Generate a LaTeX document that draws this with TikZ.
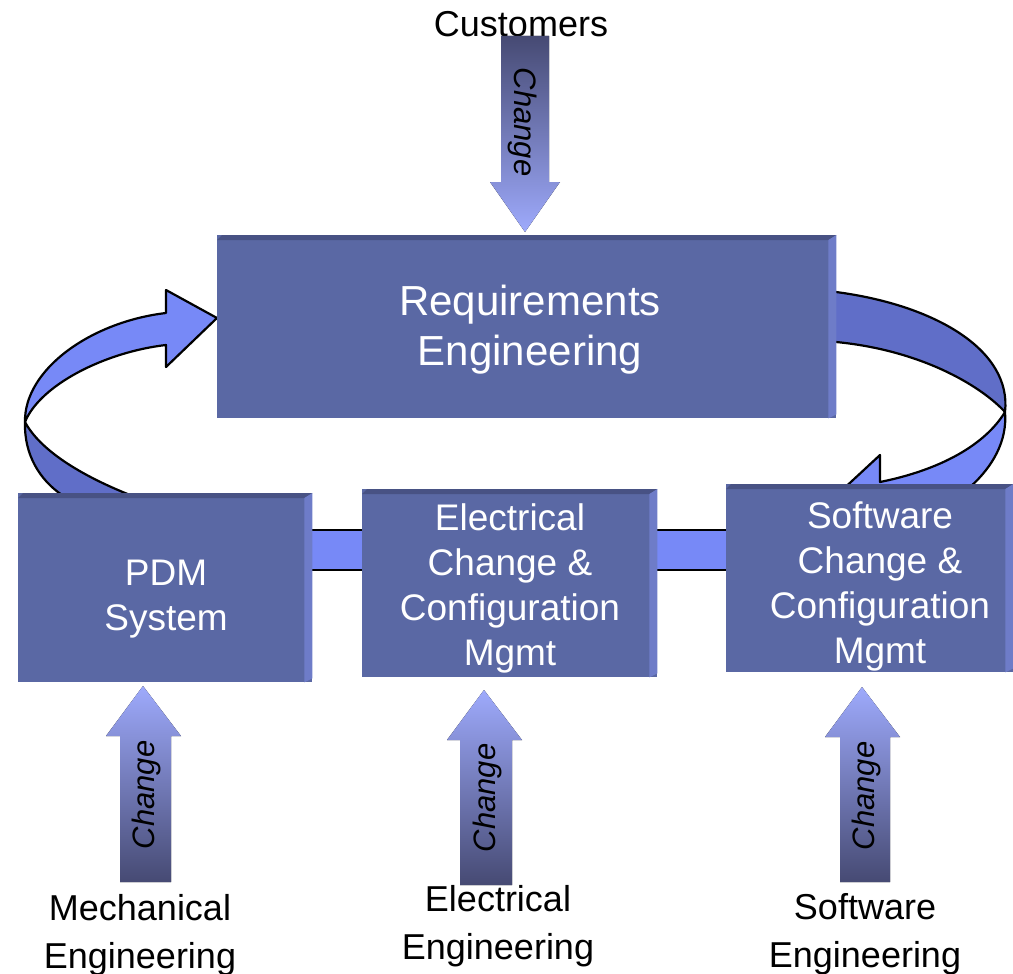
\documentclass[tikz,border=0pt]{standalone}
\usepackage{fontspec}
\setmainfont{Liberation Sans}
\usetikzlibrary{calc}

\definecolor{boxfill}{RGB}{90,104,164}
\definecolor{boxtop}{RGB}{72,82,132}
\definecolor{boxside}{RGB}{110,124,200}
\definecolor{ribbonlight}{RGB}{119,137,247}
\definecolor{ribbondark}{RGB}{96,110,200}
\definecolor{flowdark}{RGB}{70,74,115}
\definecolor{flowlight}{RGB}{158,170,252}

\tikzset{
  blk/.style={fill=boxfill, inner sep=0pt, anchor=north west},
  blktext/.style={text=white, align=center, inner sep=0pt,
    font=\fontsize{37}{45}\selectfont},
  ribbon/.style={draw=black, line width=2.2pt, line join=round},
  inflow/.style={top color=flowlight, bottom color=flowdark},
  outflow/.style={top color=flowdark, bottom color=flowlight},
  chg/.style={font=\itshape\fontsize{31}{31}\selectfont, inner sep=0pt},
  source/.style={align=center, font=\fontsize{36}{48}\selectfont, inner sep=0pt},
}

% raised-block look: darker top lip, lighter right side
\newcommand\bevelbox[1]{%
  \fill[boxtop] ($(#1.north west)+(0,5)$) -- ($(#1.north west)+(5,0)$)
    -- (#1.north east) -- ($(#1.north east)+(-8,5)$) -- cycle;
  \fill[boxside] (#1.north east) -- ($(#1.south east)+(0,-4)$)
    -- ($(#1.south east)+(-8,0)$) -- ($(#1.north east)+(-8,5)$) -- cycle;
}

\begin{document}
\begin{tikzpicture}[x=1pt,y=-1pt]
\useasboundingbox (0,0) rectangle (1013,974);

% ---- incoming sources ----
\node[source] (cust) at (521,24) {Customers};
\node[source] (mech) at (140,935) {Mechanical\\Engineering};
\node[source] (elec) at (498,926) {Electrical\\Engineering};
\node[source] (soft) at (865,934) {Software\\Engineering};

% change arrow from customers
\fill[outflow] (501,36) -- (549,36) -- (549,182) -- (560,182) -- (525,232)
  -- (490,182) -- (501,182) -- cycle;
\node[chg, rotate=-90] (chgtop) at (523,122) {Change};

% ---- left loop: PDM back up to requirements ----
\path[ribbon, fill=ribbondark] (25,422) .. controls (24,455) and (40,480) .. (62,495)
  -- (130,495) .. controls (80,475) and (40,450) .. (25,422) -- cycle;
\path[ribbon, fill=ribbonlight] (166,313) -- (166,290) -- (217,318) -- (166,367)
  -- (166,345) .. controls (105,352) and (40,385) .. (25,422)
  .. controls (24,370) and (90,322) .. (166,313) -- cycle;

% ---- right loop: requirements down to software ----
\path[ribbon, fill=ribbondark] (836,292) .. controls (935,305) and (1012,350) .. (1005,412)
  .. controls (980,385) and (920,350) .. (836,342);
\path[ribbon, fill=ribbonlight] (1005,412) .. controls (985,445) and (940,470) .. (880,482)
  -- (880,455) -- (825,506) -- (895,550) -- (895,525)
  .. controls (945,515) and (1010,470) .. (1005,412) -- cycle;

% ---- link band along the lower row ----
\fill[ribbonlight] (300,530) rectangle (740,570);
\draw[line width=2pt] (300,530) -- (740,530) (300,570) -- (740,570);

% ---- blocks ----
\node[blk, minimum width=619pt, minimum height=183pt] (req) at (217,235) {};
\node[blk, minimum width=294pt, minimum height=189pt] (pdm) at (18,493) {};
\node[blk, minimum width=295pt, minimum height=188pt] (ecm) at (362,489) {};
\node[blk, minimum width=287pt, minimum height=188pt] (scm) at (726,484) {};
\bevelbox{req}
\bevelbox{pdm}
\bevelbox{ecm}
\bevelbox{scm}

\node[blktext, font=\fontsize{42}{50}\selectfont] (reqtxt) at (530,330)
  {Requirements\\Engineering};
\node[blktext] (pdmtxt) at (166,599) {PDM\\System};
\node[blktext] (ecmtxt) at (510,588) {Electrical\\Change \&\\Configuration\\Mgmt};
\node[blktext] (scmtxt) at (880,586) {Software\\Change \&\\Configuration\\Mgmt};

% ---- change arrows from the engineering disciplines ----
\fill[inflow] (120,882) -- (171,882) -- (171,736) -- (181,736) -- (143,686)
  -- (106,736) -- (120,736) -- cycle;
\node[chg, rotate=90] (chgmech) at (146,795) {Change};

\fill[inflow] (460,885) -- (512,885) -- (512,740) -- (522,740) -- (484,690)
  -- (447,740) -- (460,740) -- cycle;
\node[chg, rotate=90] (chgelec) at (487,798) {Change};

\fill[inflow] (840,882) -- (890,882) -- (890,737) -- (900,737) -- (862,687)
  -- (825,737) -- (840,737) -- cycle;
\node[chg, rotate=90] (chgsoft) at (866,796) {Change};
\end{tikzpicture}
\end{document}
